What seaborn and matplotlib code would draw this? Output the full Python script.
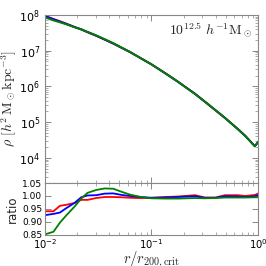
import numpy as np
import pandas as pd
import seaborn as sns
import matplotlib
matplotlib.use("Agg")
import matplotlib.pyplot as plt
from matplotlib.ticker import LogLocator, NullFormatter, MultipleLocator

# radius grid (log10 of r / r200,crit)
log_r = [-2.00, -1.92, -1.86, -1.80, -1.72, -1.66, -1.60, -1.52, -1.44, -1.36, -1.28, -1.20,
         -1.10, -1.00, -0.87, -0.75, -0.59, -0.50, -0.40, -0.31, -0.19, -0.12, -0.03, 0.00]
# reference density profile, log10 rho
log_rho_ref = [8.00, 7.91, 7.84, 7.77, 7.67, 7.60, 7.52, 7.42, 7.31, 7.20, 7.08, 6.96,
               6.79, 6.62, 6.37, 6.13, 5.79, 5.58, 5.34, 5.12, 4.81, 4.62, 4.33, 4.44]
# ratios to the reference
ratio_red = [0.941, 0.941, 0.962, 0.966, 0.973, 0.985, 0.985, 0.992, 0.996, 0.996, 0.995, 0.993,
             0.992, 0.993, 0.996, 0.998, 1.003, 0.994, 0.994, 1.003, 1.003, 1.000, 1.004, 1.009]
ratio_blue = [0.926, 0.931, 0.936, 0.953, 0.974, 0.995, 1.002, 1.003, 1.009, 1.010, 1.004, 1.000,
              0.996, 0.993, 0.994, 0.996, 0.999, 0.993, 0.993, 0.999, 0.998, 0.996, 0.999, 1.003]
ratio_green = [0.852, 0.862, 0.897, 0.925, 0.960, 0.990, 1.012, 1.023, 1.029, 1.028, 1.016, 1.005,
               0.996, 0.991, 0.990, 0.990, 0.992, 0.991, 0.992, 0.994, 0.994, 0.994, 0.995, 0.995]

runs = ["red", "blue", "green"]
colors = {"red": "#ff0000", "blue": "#0000ff", "green": "#008000"}

r = 10 ** np.array(log_r)
rho_ref = 10 ** np.array(log_rho_ref)
frames = []
for name, rat in zip(runs, [ratio_red, ratio_blue, ratio_green]):
    frames.append(pd.DataFrame({"r": r, "rho": rho_ref * np.array(rat),
                                "ratio": rat, "run": name}))
df = pd.concat(frames, ignore_index=True)

sns.set_style("ticks")
plt.rcParams['font.family'] = ['DejaVu Sans']

fig = plt.figure(figsize=(2.66, 2.66), dpi=100)
ax = fig.add_axes([0.169, 0.312, 0.801, 0.632])
axr = fig.add_axes([0.169, 0.117, 0.801, 0.195], sharex=ax)

sns.lineplot(data=df, x="r", y="rho", hue="run", hue_order=runs, palette=colors,
             ax=ax, legend=False, lw=1.4, sort=False, estimator=None)
sns.lineplot(data=df, x="r", y="ratio", hue="run", hue_order=runs, palette=colors,
             ax=axr, legend=False, lw=1.3, sort=False, estimator=None)

ax.set_xscale("log")
ax.set_yscale("log")
ax.set_xlim(1e-2, 1)
ax.set_ylim(2e3, 1e8)
axr.set_ylim(0.85, 1.05)

for a in (ax, axr):
    for s in a.spines.values():
        s.set_color("#888888")
        s.set_linewidth(0.8)
    a.tick_params(which="both", direction="in", top=True, right=True, colors="#888888",
                  labelcolor="black")
    a.tick_params(which="major", length=4, width=0.7)
    a.tick_params(which="minor", length=2, width=0.5)

ax.yaxis.set_major_locator(LogLocator(base=10, numticks=10))
ax.yaxis.set_minor_locator(LogLocator(base=10, subs=np.arange(2, 10), numticks=10))
ax.yaxis.set_minor_formatter(NullFormatter())
ax.tick_params(axis="y", labelsize=8)
ax.tick_params(axis="x", labelbottom=False)
ax.set_xlabel("")
ax.set_ylabel(r"$\rho\ [h^2\,\mathrm{M}_\odot\mathrm{kpc}^{-3}]$", fontsize=10,
              math_fontfamily="cm", labelpad=0)

axr.yaxis.set_major_locator(MultipleLocator(0.05))
axr.yaxis.set_major_formatter(matplotlib.ticker.FormatStrFormatter("%.2f"))
axr.tick_params(axis="y", labelsize=6.5, pad=2)
axr.tick_params(axis="x", labelsize=7.2, pad=1.8)
axr.set_ylabel("ratio", fontsize=8.5, labelpad=2)
axr.set_xlabel(r"$r/r_{200,\mathrm{crit}}$", fontsize=10.5, math_fontfamily="cm", labelpad=-1)

ax.text(0.975, 0.91, r"$10^{12.5}\ h^{-1}\mathrm{M}_\odot$", transform=ax.transAxes,
        ha="right", va="center", fontsize=10, math_fontfamily="cm")

fig.savefig("out.png", dpi=100)
